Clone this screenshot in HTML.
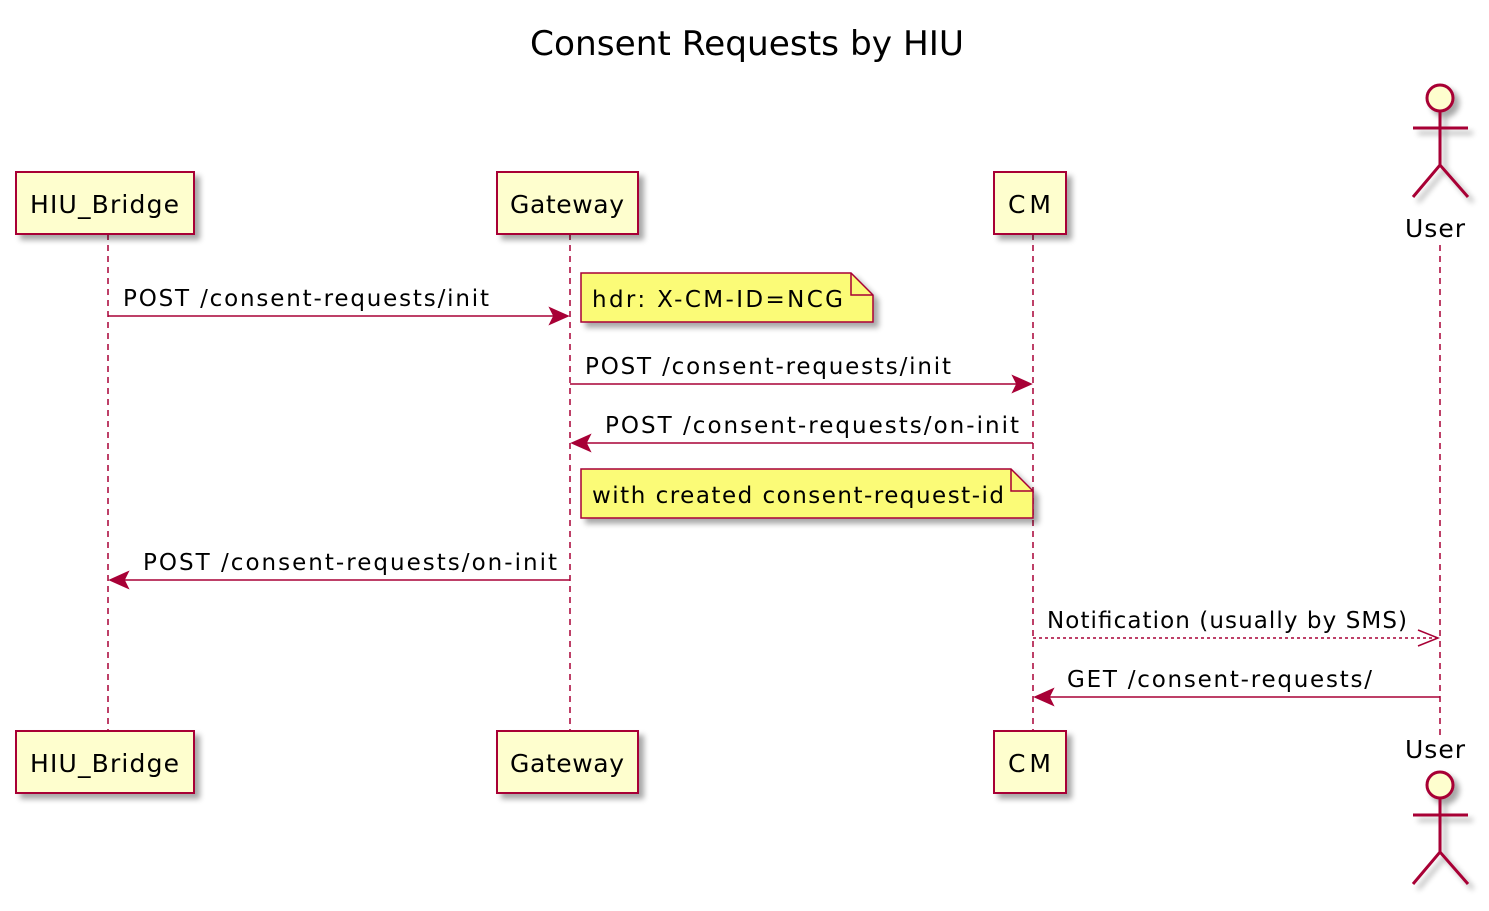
<!DOCTYPE html>
<html><head><style>body{margin:0;background:#fff}</style></head><body>
<svg width="1489" height="906" xmlns="http://www.w3.org/2000/svg" font-family="'DejaVu Sans','Liberation Sans',sans-serif">
<defs><filter id="s" x="-10%" y="-10%" width="130%" height="140%"><feGaussianBlur in="SourceAlpha" stdDeviation="3"/><feOffset dx="5" dy="5"/><feComponentTransfer><feFuncA type="linear" slope="0.35"/></feComponentTransfer><feMerge><feMergeNode/><feMergeNode in="SourceGraphic"/></feMerge></filter></defs>
<text x="530" y="55" font-size="34" textLength="434" lengthAdjust="spacingAndGlyphs">Consent Requests by HIU</text>
<g stroke="#A80036" stroke-width="1.5" stroke-dasharray="6,5">
<line x1="108" y1="234" x2="108" y2="731"/><line x1="570" y1="234" x2="570" y2="731"/><line x1="1033" y1="234" x2="1033" y2="731"/><line x1="1440" y1="245" x2="1440" y2="735"/></g>
<g fill="#FEFECE" stroke="#A80036" stroke-width="2" filter="url(#s)">
<rect x="16" y="172" width="178" height="62"/><rect x="497" y="172" width="141" height="62"/><rect x="994" y="172" width="72" height="62"/>
<rect x="16" y="731" width="178" height="62"/><rect x="497" y="731" width="141" height="62"/><rect x="994" y="731" width="72" height="62"/>
</g>
<g font-size="25" lengthAdjust="spacingAndGlyphs">
<text x="30" y="213" textLength="149">HIU_Bridge</text><text x="510" y="213" textLength="114">Gateway</text><text x="1008" y="213" textLength="43">CM</text>
<text x="30" y="772" textLength="149">HIU_Bridge</text><text x="510" y="772" textLength="114">Gateway</text><text x="1008" y="772" textLength="43">CM</text>
<text x="1405" y="237" textLength="60">User</text><text x="1405" y="758" textLength="60">User</text></g>
<g stroke="#A80036" stroke-width="3" fill="#FEFECE" filter="url(#s)">
<circle cx="1440" cy="98" r="13"/><path d="M1440 111V165M1413 128H1468M1413 197L1440 165L1468 197" fill="none"/>
<circle cx="1440" cy="785" r="13"/><path d="M1440 798V852M1413 815H1468M1413 884L1440 852L1468 884" fill="none"/>
</g>
<g fill="#FBFB77" stroke="#A80036" stroke-width="1.5" filter="url(#s)">
<path d="M581 273H851L873 295V322H581Z"/><path d="M581 469H1011L1033 491V518H581Z"/></g>
<g fill="none" stroke="#A80036" stroke-width="1.5"><path d="M851 273V295H873"/><path d="M1011 469V491H1033"/></g>
<g font-size="23" lengthAdjust="spacingAndGlyphs"><text x="592" y="307" textLength="251">hdr: X-CM-ID=NCG</text><text x="592" y="503" textLength="412">with created consent-request-id</text>
<text x="123" y="306" textLength="366">POST /consent-requests/init</text>
<text x="585" y="374" textLength="366">POST /consent-requests/init</text>
<text x="605" y="433" textLength="414">POST /consent-requests/on-init</text>
<text x="143" y="570" textLength="414">POST /consent-requests/on-init</text>
<text x="1047" y="628" textLength="360">Notification (usually by SMS)</text>
<text x="1067" y="687" textLength="305">GET /consent-requests/</text></g>
<g stroke="#A80036" stroke-width="1.5" fill="#A80036">
<line x1="108" y1="316" x2="566" y2="316"/><path d="M568 316L550 308L554 316L550 324Z"/>
<line x1="570" y1="384" x2="1029" y2="384"/><path d="M1031 384L1013 376L1017 384L1013 392Z"/>
<line x1="1033" y1="443" x2="574" y2="443"/><path d="M572 443L590 435L586 443L590 451Z"/>
<line x1="570" y1="580" x2="112" y2="580"/><path d="M110 580L128 572L124 580L128 588Z"/>
<line x1="1033" y1="638" x2="1436" y2="638" stroke-dasharray="3,3"/><path d="M1418 630L1438 638L1418 646" fill="none"/>
<line x1="1440" y1="697" x2="1037" y2="697"/><path d="M1035 697L1053 689L1049 697L1053 705Z"/>
</g>
</svg>
</body></html>
